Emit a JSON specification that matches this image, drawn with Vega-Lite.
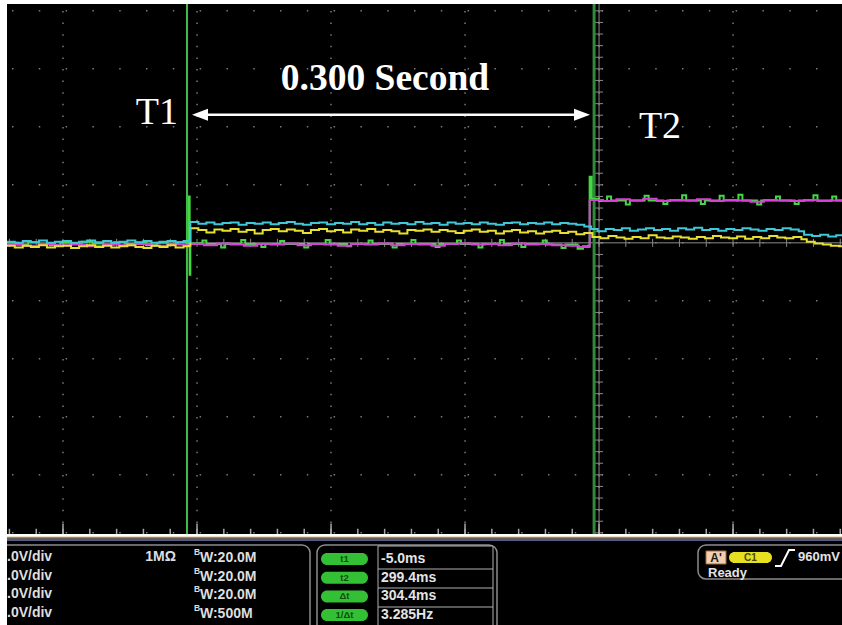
{
  "$schema": "https://vega.github.io/schema/vega-lite/v6.json",
  "background": "#ffffff",
  "padding": {"left": 3, "top": 2, "right": 0, "bottom": 0},
  "spacing": 0,
  "config": {"view": {"stroke": null, "fill": "#000000"}},
  "resolve": {"scale": {"x": "independent", "y": "independent"}},
  "datasets": {
    "vgrid": [{"t": -100}, {"t": 0}, {"t": 100}, {"t": 200}, {"t": 300}, {"t": 400}],
    "hgrid": [{"v": -5}, {"v": -4}, {"v": -3}, {"v": -2}, {"v": -1}, {"v": 0}, {"v": 1}, {"v": 2}, {"v": 3}, {"v": 4}],
    "xticks": [{"t": -140}, {"t": -120}, {"t": -100}, {"t": -80}, {"t": -60}, {"t": -40}, {"t": -20}, {"t": 0}, {"t": 20}, {"t": 40}, {"t": 60}, {"t": 80}, {"t": 100}, {"t": 120}, {"t": 140}, {"t": 160}, {"t": 180}, {"t": 200}, {"t": 220}, {"t": 240}, {"t": 260}, {"t": 280}, {"t": 300}, {"t": 320}, {"t": 340}, {"t": 360}, {"t": 380}, {"t": 400}, {"t": 420}, {"t": 440}, {"t": 460}, {"t": 480}],
    "yticks": [{"v": -5}, {"v": -4.8}, {"v": -4.6}, {"v": -4.4}, {"v": -4.2}, {"v": -4}, {"v": -3.8}, {"v": -3.6}, {"v": -3.4}, {"v": -3.2}, {"v": -3}, {"v": -2.8}, {"v": -2.6}, {"v": -2.4}, {"v": -2.2}, {"v": -2}, {"v": -1.8}, {"v": -1.6}, {"v": -1.4}, {"v": -1.2}, {"v": -1}, {"v": -0.8}, {"v": -0.6}, {"v": -0.4}, {"v": -0.2}, {"v": 0}, {"v": 0.2}, {"v": 0.4}, {"v": 0.6}, {"v": 0.8}, {"v": 1}, {"v": 1.2}, {"v": 1.4}, {"v": 1.6}, {"v": 1.8}, {"v": 2}, {"v": 2.2}, {"v": 2.4}, {"v": 2.6}, {"v": 2.8}, {"v": 3}, {"v": 3.2}, {"v": 3.4}, {"v": 3.6}, {"v": 3.8}, {"v": 4}],
    "yellow": [{"t":-141.8,"v":-0.05},{"t":-136,"v":-0.08},{"t":-130,"v":-0.05},{"t":-124,"v":-0.07},{"t":-118,"v":-0.04},{"t":-112,"v":-0.08},{"t":-106,"v":-0.06},{"t":-100,"v":-0.05},{"t":-94,"v":-0.09},{"t":-88,"v":-0.06},{"t":-82,"v":-0.04},{"t":-76,"v":-0.07},{"t":-70,"v":-0.05},{"t":-64,"v":-0.08},{"t":-58,"v":-0.06},{"t":-52,"v":-0.04},{"t":-46,"v":-0.07},{"t":-40,"v":-0.09},{"t":-34,"v":-0.05},{"t":-28,"v":-0.07},{"t":-22,"v":-0.04},{"t":-16,"v":-0.08},{"t":-10,"v":-0.06},{"t":-6,"v":-0.05},{"t":-5,"v":0.25},{"t":1,"v":0.22},{"t":7,"v":0.18},{"t":13,"v":0.23},{"t":19,"v":0.21},{"t":25,"v":0.24},{"t":31,"v":0.19},{"t":37,"v":0.22},{"t":43,"v":0.16},{"t":49,"v":0.22},{"t":55,"v":0.24},{"t":61,"v":0.2},{"t":67,"v":0.23},{"t":73,"v":0.21},{"t":79,"v":0.17},{"t":85,"v":0.22},{"t":91,"v":0.24},{"t":97,"v":0.2},{"t":103,"v":0.22},{"t":109,"v":0.18},{"t":115,"v":0.23},{"t":121,"v":0.21},{"t":127,"v":0.24},{"t":133,"v":0.19},{"t":139,"v":0.22},{"t":145,"v":0.2},{"t":151,"v":0.16},{"t":157,"v":0.22},{"t":163,"v":0.21},{"t":169,"v":0.23},{"t":175,"v":0.19},{"t":181,"v":0.22},{"t":187,"v":0.2},{"t":193,"v":0.17},{"t":199,"v":0.21},{"t":205,"v":0.23},{"t":211,"v":0.19},{"t":217,"v":0.21},{"t":223,"v":0.16},{"t":229,"v":0.2},{"t":235,"v":0.22},{"t":241,"v":0.18},{"t":247,"v":0.2},{"t":253,"v":0.16},{"t":259,"v":0.19},{"t":265,"v":0.21},{"t":271,"v":0.17},{"t":277,"v":0.19},{"t":283,"v":0.15},{"t":289,"v":0.17},{"t":295,"v":0.1},{"t":301,"v":0.08},{"t":307,"v":0.12},{"t":313,"v":0.09},{"t":319,"v":0.07},{"t":325,"v":0.1},{"t":331,"v":0.08},{"t":337,"v":0.13},{"t":343,"v":0.09},{"t":349,"v":0.08},{"t":355,"v":0.11},{"t":361,"v":0.09},{"t":367,"v":0.07},{"t":373,"v":0.1},{"t":379,"v":0.08},{"t":385,"v":0.12},{"t":391,"v":0.09},{"t":397,"v":0.08},{"t":403,"v":0.11},{"t":409,"v":0.07},{"t":415,"v":0.1},{"t":421,"v":0.08},{"t":427,"v":0.12},{"t":433,"v":0.09},{"t":439,"v":0.08},{"t":445,"v":0.1},{"t":451,"v":0.06},{"t":455,"v":0.02},{"t":461,"v":-0.01},{"t":467,"v":-0.03},{"t":473,"v":-0.05},{"t":479,"v":-0.06},{"t":481.3,"v":-0.06}],
    "cyan": [{"t":-141.8,"v":0.02},{"t":-136,"v":0.0},{"t":-130,"v":0.03},{"t":-124,"v":0.01},{"t":-118,"v":0.04},{"t":-112,"v":0.0},{"t":-106,"v":0.02},{"t":-100,"v":0.03},{"t":-94,"v":0.0},{"t":-88,"v":0.02},{"t":-82,"v":0.04},{"t":-76,"v":0.01},{"t":-70,"v":0.03},{"t":-64,"v":0.0},{"t":-58,"v":0.02},{"t":-52,"v":0.04},{"t":-46,"v":0.01},{"t":-40,"v":0.03},{"t":-34,"v":0.0},{"t":-28,"v":0.02},{"t":-22,"v":0.03},{"t":-16,"v":0.01},{"t":-10,"v":0.03},{"t":-6,"v":0.02},{"t":-5,"v":0.36},{"t":1,"v":0.33},{"t":7,"v":0.35},{"t":13,"v":0.32},{"t":19,"v":0.34},{"t":25,"v":0.35},{"t":31,"v":0.31},{"t":37,"v":0.34},{"t":43,"v":0.33},{"t":49,"v":0.35},{"t":55,"v":0.32},{"t":61,"v":0.34},{"t":67,"v":0.36},{"t":73,"v":0.33},{"t":79,"v":0.31},{"t":85,"v":0.34},{"t":91,"v":0.35},{"t":97,"v":0.32},{"t":103,"v":0.34},{"t":109,"v":0.33},{"t":115,"v":0.36},{"t":121,"v":0.32},{"t":127,"v":0.34},{"t":133,"v":0.31},{"t":139,"v":0.35},{"t":145,"v":0.33},{"t":151,"v":0.34},{"t":157,"v":0.32},{"t":163,"v":0.36},{"t":169,"v":0.33},{"t":175,"v":0.34},{"t":181,"v":0.31},{"t":187,"v":0.35},{"t":193,"v":0.33},{"t":199,"v":0.34},{"t":205,"v":0.32},{"t":211,"v":0.35},{"t":217,"v":0.33},{"t":223,"v":0.31},{"t":229,"v":0.34},{"t":235,"v":0.35},{"t":241,"v":0.32},{"t":247,"v":0.34},{"t":253,"v":0.33},{"t":259,"v":0.35},{"t":265,"v":0.32},{"t":271,"v":0.34},{"t":277,"v":0.33},{"t":283,"v":0.31},{"t":289,"v":0.28},{"t":294,"v":0.24},{"t":299,"v":0.2},{"t":305,"v":0.24},{"t":311,"v":0.22},{"t":317,"v":0.25},{"t":323,"v":0.21},{"t":329,"v":0.23},{"t":335,"v":0.25},{"t":341,"v":0.22},{"t":347,"v":0.24},{"t":353,"v":0.21},{"t":359,"v":0.25},{"t":365,"v":0.23},{"t":371,"v":0.26},{"t":377,"v":0.22},{"t":383,"v":0.24},{"t":389,"v":0.21},{"t":395,"v":0.24},{"t":401,"v":0.22},{"t":407,"v":0.25},{"t":413,"v":0.23},{"t":419,"v":0.21},{"t":425,"v":0.24},{"t":431,"v":0.22},{"t":437,"v":0.25},{"t":443,"v":0.23},{"t":449,"v":0.2},{"t":453,"v":0.14},{"t":459,"v":0.12},{"t":465,"v":0.14},{"t":471,"v":0.11},{"t":477,"v":0.13},{"t":481.3,"v":0.12}],
    "magenta": [{"t":-141.8,"v":-0.03},{"t":-130,"v":-0.05},{"t":-118,"v":-0.02},{"t":-106,"v":-0.04},{"t":-94,"v":-0.03},{"t":-82,"v":-0.06},{"t":-70,"v":-0.03},{"t":-58,"v":-0.04},{"t":-46,"v":-0.02},{"t":-34,"v":-0.05},{"t":-22,"v":-0.03},{"t":-10,"v":-0.04},{"t":-5,"v":-0.02},{"t":5,"v":-0.04},{"t":15,"v":-0.01},{"t":25,"v":-0.03},{"t":35,"v":-0.05},{"t":45,"v":-0.02},{"t":55,"v":-0.03},{"t":65,"v":-0.01},{"t":75,"v":-0.04},{"t":85,"v":-0.02},{"t":95,"v":-0.03},{"t":105,"v":-0.05},{"t":115,"v":-0.02},{"t":125,"v":-0.03},{"t":135,"v":-0.01},{"t":145,"v":-0.04},{"t":155,"v":-0.02},{"t":165,"v":-0.03},{"t":175,"v":-0.05},{"t":185,"v":-0.02},{"t":195,"v":-0.01},{"t":205,"v":-0.03},{"t":215,"v":-0.02},{"t":225,"v":-0.04},{"t":235,"v":-0.01},{"t":245,"v":-0.03},{"t":255,"v":-0.02},{"t":265,"v":-0.04},{"t":275,"v":-0.05},{"t":285,"v":-0.07},{"t":293,"v":0.74},{"t":303,"v":0.72},{"t":313,"v":0.75},{"t":323,"v":0.73},{"t":333,"v":0.76},{"t":343,"v":0.72},{"t":353,"v":0.74},{"t":363,"v":0.73},{"t":373,"v":0.75},{"t":383,"v":0.72},{"t":393,"v":0.74},{"t":403,"v":0.73},{"t":413,"v":0.71},{"t":423,"v":0.74},{"t":433,"v":0.73},{"t":443,"v":0.72},{"t":453,"v":0.74},{"t":463,"v":0.72},{"t":473,"v":0.73},{"t":481.3,"v":0.73}],
    "green": [{"t":-141.8,"v":0.0},{"t":-134,"v":-0.03},{"t":-126,"v":0.01},{"t":-118,"v":-0.02},{"t":-110,"v":-0.04},{"t":-102,"v":0.0},{"t":-94,"v":-0.02},{"t":-86,"v":0.02},{"t":-78,"v":-0.01},{"t":-70,"v":-0.03},{"t":-62,"v":0.01},{"t":-54,"v":-0.02},{"t":-46,"v":0.0},{"t":-38,"v":-0.04},{"t":-30,"v":0.0},{"t":-22,"v":-0.02},{"t":-14,"v":0.01},{"t":-8,"v":-0.01},{"t":-6,"v":0.8},{"t":-5.5,"v":-0.55},{"t":-5,"v":-0.01},{"t":4,"v":0.04},{"t":7,"v":-0.02},{"t":18,"v":-0.08},{"t":21,"v":-0.02},{"t":33,"v":0.05},{"t":36,"v":-0.02},{"t":48,"v":-0.07},{"t":51,"v":-0.02},{"t":62,"v":0.03},{"t":65,"v":-0.02},{"t":80,"v":-0.08},{"t":83,"v":-0.02},{"t":96,"v":0.05},{"t":99,"v":-0.02},{"t":112,"v":-0.06},{"t":115,"v":-0.02},{"t":128,"v":0.04},{"t":131,"v":-0.02},{"t":146,"v":-0.08},{"t":149,"v":-0.02},{"t":160,"v":0.05},{"t":163,"v":-0.02},{"t":178,"v":-0.07},{"t":181,"v":-0.02},{"t":194,"v":0.04},{"t":197,"v":-0.02},{"t":210,"v":-0.08},{"t":213,"v":-0.02},{"t":226,"v":0.05},{"t":229,"v":-0.02},{"t":242,"v":-0.07},{"t":245,"v":-0.02},{"t":258,"v":0.04},{"t":261,"v":-0.03},{"t":272,"v":-0.09},{"t":275,"v":-0.03},{"t":284,"v":-0.1},{"t":288,"v":-0.06},{"t":292,"v":-0.05},{"t":293,"v":1.14},{"t":294.5,"v":0.76},{"t":300,"v":0.72},{"t":306,"v":0.8},{"t":309,"v":0.73},{"t":320,"v":0.66},{"t":323,"v":0.73},{"t":334,"v":0.81},{"t":337,"v":0.73},{"t":348,"v":0.67},{"t":351,"v":0.73},{"t":362,"v":0.82},{"t":365,"v":0.73},{"t":376,"v":0.67},{"t":379,"v":0.73},{"t":390,"v":0.81},{"t":393,"v":0.73},{"t":404,"v":0.83},{"t":407,"v":0.73},{"t":418,"v":0.66},{"t":421,"v":0.73},{"t":432,"v":0.8},{"t":435,"v":0.73},{"t":446,"v":0.67},{"t":449,"v":0.73},{"t":460,"v":0.82},{"t":463,"v":0.73},{"t":474,"v":0.8},{"t":477,"v":0.73},{"t":481.3,"v":0.73}],
    "leftrows": [{"row": 1, "txt": ".0V/div", "bw": "W:20.0M"}, {"row": 2, "txt": ".0V/div", "bw": "W:20.0M"}, {"row": 3, "txt": ".0V/div", "bw": "W:20.0M"}, {"row": 4, "txt": ".0V/div", "bw": "W:500M"}],
    "cursorrows": [{"row": 1, "k": "t1", "val": "-5.0ms"}, {"row": 2, "k": "t2", "val": "299.4ms"}, {"row": 3, "k": "Δt", "val": "304.4ms"}, {"row": 4, "k": "1/Δt", "val": "3.285Hz"}],
    "seps": [{"s": 1.642}, {"s": 2.658}, {"s": 3.674}]
  },
  "vconcat": [
    {
      "width": 835,
      "height": 530,
      "layer": [
        {"data": {"name": "vgrid"}, "mark": {"type": "rule", "color": "#7a7a7a", "strokeWidth": 1.5, "strokeDash": [1.5, 10.1], "strokeDashOffset": 4.6},
         "encoding": {"x": {"field": "t", "type": "quantitative", "scale": {"domain": [-141.8, 481.3], "nice": false, "zero": false}, "axis": null},
                      "y": {"datum": 4.118, "type": "quantitative", "scale": {"domain": [-5.02, 4.118], "nice": false, "zero": false}, "axis": null},
                      "y2": {"datum": -5.02}}},
        {"data": {"name": "hgrid"}, "mark": {"type": "rule", "color": "#7a7a7a", "strokeWidth": 1.5, "strokeDash": [1.5, 25.3], "strokeDashOffset": 21.8},
         "encoding": {"x": {"datum": -141.8, "type": "quantitative"}, "x2": {"datum": 481.3}, "y": {"field": "v", "type": "quantitative"}}},
        {"data": {"values": [{}]}, "mark": {"type": "rule", "color": "#8a8a8a", "strokeWidth": 1},
         "encoding": {"x": {"datum": -141.8, "type": "quantitative"}, "x2": {"datum": 481.3}, "y": {"datum": 0, "type": "quantitative"}}},
        {"data": {"values": [{}]}, "mark": {"type": "rule", "color": "#8a8a8a", "strokeWidth": 1},
         "encoding": {"x": {"datum": 300, "type": "quantitative"}, "y": {"datum": 4.118, "type": "quantitative"}, "y2": {"datum": -5.02}}},
        {"data": {"name": "xticks"}, "mark": {"type": "rule", "color": "#8a8a8a", "strokeWidth": 1},
         "encoding": {"x": {"field": "t", "type": "quantitative"}, "y": {"datum": -0.07, "type": "quantitative"}, "y2": {"datum": 0.07}}},
        {"data": {"name": "yticks"}, "mark": {"type": "rule", "color": "#8a8a8a", "strokeWidth": 1},
         "encoding": {"y": {"field": "v", "type": "quantitative"}, "x": {"datum": 297, "type": "quantitative"}, "x2": {"datum": 303}}},
        {"data": {"name": "xticks"}, "mark": {"type": "rule", "color": "#a8a8a8", "strokeWidth": 1.5},
         "encoding": {"x": {"field": "t", "type": "quantitative"}, "y": {"datum": -5.02, "type": "quantitative"}, "y2": {"datum": -4.93}}},
        {"data": {"name": "vgrid"}, "mark": {"type": "rule", "color": "#a8a8a8", "strokeWidth": 1.5},
         "encoding": {"x": {"field": "t", "type": "quantitative"}, "y": {"datum": -5.02, "type": "quantitative"}, "y2": {"datum": -4.84}}},
        {"data": {"values": [{}]}, "mark": {"type": "rule", "color": "#3fbf45", "strokeWidth": 2},
         "encoding": {"x": {"datum": -7.5, "type": "quantitative"}, "y": {"datum": 4.118, "type": "quantitative"}, "y2": {"datum": -5.02}}},
        {"data": {"values": [{}]}, "mark": {"type": "rule", "color": "#2f8a3a", "strokeWidth": 3},
         "encoding": {"x": {"datum": 296.3, "type": "quantitative"}, "y": {"datum": 4.118, "type": "quantitative"}, "y2": {"datum": -5.02}}},
        {"data": {"name": "green"}, "mark": {"type": "line", "interpolate": "step-after", "color": "#44d844", "strokeWidth": 2},
         "encoding": {"x": {"field": "t", "type": "quantitative"}, "y": {"field": "v", "type": "quantitative"}}},
        {"data": {"name": "magenta"}, "mark": {"type": "line", "interpolate": "step-after", "color": "#d642d6", "strokeWidth": 2},
         "encoding": {"x": {"field": "t", "type": "quantitative"}, "y": {"field": "v", "type": "quantitative"}}},
        {"data": {"name": "yellow"}, "mark": {"type": "line", "interpolate": "step-after", "color": "#e8e030", "strokeWidth": 2},
         "encoding": {"x": {"field": "t", "type": "quantitative"}, "y": {"field": "v", "type": "quantitative"}}},
        {"data": {"name": "cyan"}, "mark": {"type": "line", "interpolate": "step-after", "color": "#3ec8d8", "strokeWidth": 2},
         "encoding": {"x": {"field": "t", "type": "quantitative"}, "y": {"field": "v", "type": "quantitative"}}},
        {"data": {"values": [{}]}, "mark": {"type": "rule", "color": "#ffffff", "strokeWidth": 2.5},
         "encoding": {"x": {"datum": 2.2, "type": "quantitative"}, "x2": {"datum": 287.3}, "y": {"datum": 2.21, "type": "quantitative"}}},
        {"data": {"values": [{}]}, "mark": {"type": "point", "shape": "M -1 0 L 1 -0.75 L 1 0.75 Z", "filled": true, "color": "#ffffff", "opacity": 1, "size": 256},
         "encoding": {"x": {"datum": 2.2, "type": "quantitative"}, "y": {"datum": 2.21, "type": "quantitative"}}},
        {"data": {"values": [{}]}, "mark": {"type": "point", "shape": "M 1 0 L -1 -0.75 L -1 0.75 Z", "filled": true, "color": "#ffffff", "opacity": 1, "size": 256},
         "encoding": {"x": {"datum": 287.3, "type": "quantitative"}, "y": {"datum": 2.21, "type": "quantitative"}}},
        {"data": {"values": [{"label": "T1"}]}, "mark": {"type": "text", "font": "Liberation Serif", "fontSize": 38, "color": "#ffffff", "align": "center", "baseline": "middle"},
         "encoding": {"x": {"datum": -29.9, "type": "quantitative"}, "y": {"datum": 2.24, "type": "quantitative"}, "text": {"field": "label"}}},
        {"data": {"values": [{"label": "T2"}]}, "mark": {"type": "text", "font": "Liberation Serif", "fontSize": 38, "color": "#ffffff", "align": "center", "baseline": "middle"},
         "encoding": {"x": {"datum": 345.5, "type": "quantitative"}, "y": {"datum": 2.0, "type": "quantitative"}, "text": {"field": "label"}}},
        {"data": {"values": [{"label": "0.300 Second"}]}, "mark": {"type": "text", "font": "Liberation Serif", "fontWeight": "bold", "fontSize": 37.5, "color": "#ffffff", "align": "center", "baseline": "middle"},
         "encoding": {"x": {"datum": 140.3, "type": "quantitative"}, "y": {"datum": 2.83, "type": "quantitative"}, "text": {"field": "label"}}}
      ]
    },
    {
      "width": 835,
      "height": 90,
      "layer": [
        {"data": {"values": [{}]}, "mark": {"type": "rule", "color": "#b5822e", "strokeWidth": 2},
         "encoding": {"x": {"datum": 0, "type": "quantitative", "scale": {"domain": [0, 835], "nice": false, "zero": false}, "axis": null},
                      "x2": {"datum": 835},
                      "y": {"datum": -0.027, "type": "quantitative", "scale": {"domain": [-0.0695, 4.743], "nice": false, "zero": false, "reverse": true}, "axis": null}}},
        {"data": {"values": [{}]}, "mark": {"type": "rule", "color": "#4f5b86", "strokeWidth": 2.5},
         "encoding": {"x": {"datum": 0, "type": "quantitative"}, "x2": {"datum": 835}, "y": {"datum": 0.08, "type": "quantitative"}}},
        {"data": {"values": [{}]}, "mark": {"type": "rect", "fill": "#000000", "stroke": "#8c8c8c", "strokeWidth": 1.5, "cornerRadius": 8, "clip": true},
         "encoding": {"x": {"datum": -20, "type": "quantitative"}, "x2": {"datum": 303}, "y": {"datum": 0.358, "type": "quantitative"}, "y2": {"datum": 5.5}}},
        {"data": {"values": [{}]}, "mark": {"type": "rect", "fill": "#000000", "stroke": "#8c8c8c", "strokeWidth": 1.5, "cornerRadius": 8, "clip": true},
         "encoding": {"x": {"datum": 310, "type": "quantitative"}, "x2": {"datum": 490}, "y": {"datum": 0.358, "type": "quantitative"}, "y2": {"datum": 5.5}}},
        {"data": {"values": [{}]}, "mark": {"type": "rect", "fill": "#000000", "stroke": "#8c8c8c", "strokeWidth": 1.5, "cornerRadius": 8, "clip": true},
         "encoding": {"x": {"datum": 691, "type": "quantitative"}, "x2": {"datum": 870}, "y": {"datum": 0.358, "type": "quantitative"}, "y2": {"datum": 2.176}}},
        {"data": {"values": [{}]}, "mark": {"type": "rect", "fill": "#000000", "stroke": "#b0b0b0", "strokeWidth": 1, "clip": true},
         "encoding": {"x": {"datum": 371, "type": "quantitative"}, "x2": {"datum": 486}, "y": {"datum": 0.412, "type": "quantitative"}, "y2": {"datum": 5.5}}},
        {"data": {"name": "seps"}, "mark": {"type": "rule", "color": "#b0b0b0", "strokeWidth": 1},
         "encoding": {"x": {"datum": 371, "type": "quantitative"}, "x2": {"datum": 486}, "y": {"field": "s", "type": "quantitative"}}},
        {"data": {"name": "leftrows"}, "mark": {"type": "text", "font": "Liberation Sans", "fontWeight": "bold", "fontSize": 14, "color": "#dedede", "align": "left", "baseline": "middle"},
         "encoding": {"x": {"datum": 0, "type": "quantitative"}, "y": {"field": "row", "type": "quantitative"}, "text": {"field": "txt"}}},
        {"data": {"values": [{"row": 1, "txt": "1MΩ"}]}, "mark": {"type": "text", "font": "Liberation Sans", "fontWeight": "bold", "fontSize": 14, "color": "#dedede", "align": "right", "baseline": "middle"},
         "encoding": {"x": {"datum": 169, "type": "quantitative"}, "y": {"field": "row", "type": "quantitative"}, "text": {"field": "txt"}}},
        {"data": {"name": "leftrows"}, "mark": {"type": "text", "font": "Liberation Sans", "fontWeight": "bold", "fontSize": 8.5, "color": "#dedede", "align": "left", "baseline": "middle", "dy": -5},
         "encoding": {"x": {"datum": 187, "type": "quantitative"}, "y": {"field": "row", "type": "quantitative"}, "text": {"value": "B"}}},
        {"data": {"name": "leftrows"}, "mark": {"type": "text", "font": "Liberation Sans", "fontWeight": "bold", "fontSize": 14, "color": "#dedede", "align": "left", "baseline": "middle", "dy": 1},
         "encoding": {"x": {"datum": 193, "type": "quantitative"}, "y": {"field": "row", "type": "quantitative"}, "text": {"field": "bw"}}},
        {"data": {"name": "cursorrows"}, "mark": {"type": "point", "shape": "M -0.7 -0.24 L 0.7 -0.24 A 0.24 0.24 0 0 1 0.7 0.24 L -0.7 0.24 A 0.24 0.24 0 0 1 -0.7 -0.24 Z", "filled": true, "color": "#34c034", "opacity": 1, "size": 2500, "yOffset": 2},
         "encoding": {"x": {"datum": 337.5, "type": "quantitative"}, "y": {"field": "row", "type": "quantitative"}}},
        {"data": {"name": "cursorrows"}, "mark": {"type": "text", "font": "Liberation Sans", "fontWeight": "bold", "fontSize": 9.5, "color": "#0c4f0c", "align": "center", "baseline": "middle", "yOffset": 2},
         "encoding": {"x": {"datum": 337.5, "type": "quantitative"}, "y": {"field": "row", "type": "quantitative"}, "text": {"field": "k"}}},
        {"data": {"name": "cursorrows"}, "mark": {"type": "text", "font": "Liberation Sans", "fontWeight": "bold", "fontSize": 14, "color": "#e4e4e4", "align": "left", "baseline": "middle", "yOffset": 2},
         "encoding": {"x": {"datum": 374, "type": "quantitative"}, "y": {"field": "row", "type": "quantitative"}, "text": {"field": "val"}}},
        {"data": {"values": [{}]}, "mark": {"type": "rect", "fill": "#f0d0b0", "stroke": "#a86a3a", "strokeWidth": 1},
         "encoding": {"x": {"datum": 699, "type": "quantitative"}, "x2": {"datum": 719}, "y": {"datum": 0.679, "type": "quantitative"}, "y2": {"datum": 1.374}}},
        {"data": {"values": [{"txt": "A'"}]}, "mark": {"type": "text", "font": "Liberation Sans", "fontWeight": "bold", "fontSize": 12, "color": "#1a1a1a", "align": "center", "baseline": "middle"},
         "encoding": {"x": {"datum": 709, "type": "quantitative"}, "y": {"datum": 1.03, "type": "quantitative"}, "text": {"field": "txt"}}},
        {"data": {"values": [{}]}, "mark": {"type": "point", "shape": "M -0.7 -0.24 L 0.7 -0.24 A 0.24 0.24 0 0 1 0.7 0.24 L -0.7 0.24 A 0.24 0.24 0 0 1 -0.7 -0.24 Z", "filled": true, "color": "#e6e020", "opacity": 1, "size": 2094},
         "encoding": {"x": {"datum": 743.5, "type": "quantitative"}, "y": {"datum": 1.03, "type": "quantitative"}}},
        {"data": {"values": [{"txt": "C1"}]}, "mark": {"type": "text", "font": "Liberation Sans", "fontWeight": "bold", "fontSize": 10, "color": "#4a4a10", "align": "center", "baseline": "middle"},
         "encoding": {"x": {"datum": 743.5, "type": "quantitative"}, "y": {"datum": 1.03, "type": "quantitative"}, "text": {"field": "txt"}}},
        {"data": {"values": [{}]}, "mark": {"type": "point", "shape": "M -1 0.8 L -0.4 0.8 L 0.4 -0.8 L 1 -0.8", "filled": false, "color": "#ffffff", "opacity": 1, "strokeWidth": 2, "size": 400},
         "encoding": {"x": {"datum": 778, "type": "quantitative"}, "y": {"datum": 1.05, "type": "quantitative"}}},
        {"data": {"values": [{"txt": "960mV"}]}, "mark": {"type": "text", "font": "Liberation Sans", "fontWeight": "bold", "fontSize": 13, "color": "#e4e4e4", "align": "left", "baseline": "middle"},
         "encoding": {"x": {"datum": 791, "type": "quantitative"}, "y": {"datum": 1.0, "type": "quantitative"}, "text": {"field": "txt"}}},
        {"data": {"values": [{"txt": "Ready"}]}, "mark": {"type": "text", "font": "Liberation Sans", "fontWeight": "bold", "fontSize": 13, "color": "#e4e4e4", "align": "left", "baseline": "middle"},
         "encoding": {"x": {"datum": 701, "type": "quantitative"}, "y": {"datum": 1.856, "type": "quantitative"}, "text": {"field": "txt"}}}
      ]
    }
  ]
}
